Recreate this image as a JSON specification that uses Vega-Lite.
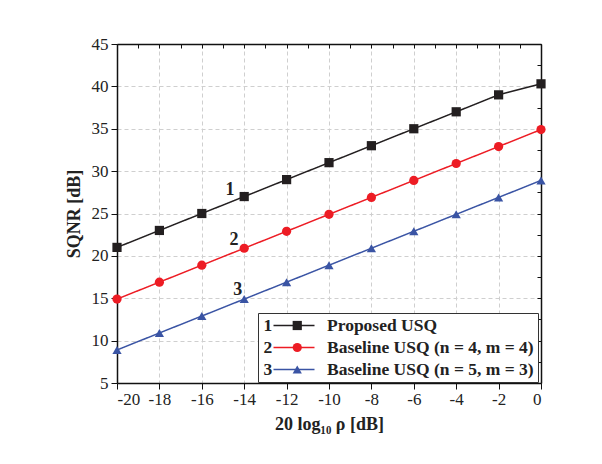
{
  "$schema": "https://vega.github.io/schema/vega-lite/v6.json",
  "width": 424,
  "height": 339,
  "autosize": {"type": "none"},
  "padding": {"left": 117, "top": 44, "right": 61, "bottom": 81},
  "background": "white",
  "config": {
    "font": "Liberation Serif",
    "view": {"stroke": null},
    "axis": {
      "domainColor": "#111111",
      "domainWidth": 1.5,
      "tickColor": "#111111",
      "tickWidth": 1,
      "gridColor": "#cfcfcf",
      "gridDash": [4, 3],
      "gridWidth": 1,
      "labelColor": "#222222",
      "labelFont": "Liberation Serif",
      "labelFontSize": 17,
      "titleFont": "Liberation Serif",
      "titleColor": "#222222",
      "titleFontSize": 18,
      "titleFontWeight": "bold"
    }
  },
  "data": {
    "values": [
      {"x": -20, "y": 21, "s": "Proposed USQ", "marker": "square", "num": "1"},
      {"x": -18, "y": 23, "s": "Proposed USQ", "marker": "square", "num": "1"},
      {"x": -16, "y": 25, "s": "Proposed USQ", "marker": "square", "num": "1"},
      {"x": -14, "y": 27, "s": "Proposed USQ", "marker": "square", "num": "1"},
      {"x": -12, "y": 29, "s": "Proposed USQ", "marker": "square", "num": "1"},
      {"x": -10, "y": 31, "s": "Proposed USQ", "marker": "square", "num": "1"},
      {"x": -8, "y": 33, "s": "Proposed USQ", "marker": "square", "num": "1"},
      {"x": -6, "y": 35, "s": "Proposed USQ", "marker": "square", "num": "1"},
      {"x": -4, "y": 37, "s": "Proposed USQ", "marker": "square", "num": "1"},
      {"x": -2, "y": 39, "s": "Proposed USQ", "marker": "square", "num": "1"},
      {"x": 0, "y": 40.3, "s": "Proposed USQ", "marker": "square", "num": "1"},
      {"x": -20, "y": 14.9, "s": "Baseline USQ (n = 4, m = 4)", "marker": "circle", "num": "2"},
      {"x": -18, "y": 16.9, "s": "Baseline USQ (n = 4, m = 4)", "marker": "circle", "num": "2"},
      {"x": -16, "y": 18.9, "s": "Baseline USQ (n = 4, m = 4)", "marker": "circle", "num": "2"},
      {"x": -14, "y": 20.9, "s": "Baseline USQ (n = 4, m = 4)", "marker": "circle", "num": "2"},
      {"x": -12, "y": 22.9, "s": "Baseline USQ (n = 4, m = 4)", "marker": "circle", "num": "2"},
      {"x": -10, "y": 24.9, "s": "Baseline USQ (n = 4, m = 4)", "marker": "circle", "num": "2"},
      {"x": -8, "y": 26.9, "s": "Baseline USQ (n = 4, m = 4)", "marker": "circle", "num": "2"},
      {"x": -6, "y": 28.9, "s": "Baseline USQ (n = 4, m = 4)", "marker": "circle", "num": "2"},
      {"x": -4, "y": 30.9, "s": "Baseline USQ (n = 4, m = 4)", "marker": "circle", "num": "2"},
      {"x": -2, "y": 32.9, "s": "Baseline USQ (n = 4, m = 4)", "marker": "circle", "num": "2"},
      {"x": 0, "y": 34.9, "s": "Baseline USQ (n = 4, m = 4)", "marker": "circle", "num": "2"},
      {"x": -20, "y": 8.9, "s": "Baseline USQ (n = 5, m = 3)", "marker": "triangle", "num": "3"},
      {"x": -18, "y": 10.9, "s": "Baseline USQ (n = 5, m = 3)", "marker": "triangle", "num": "3"},
      {"x": -16, "y": 12.9, "s": "Baseline USQ (n = 5, m = 3)", "marker": "triangle", "num": "3"},
      {"x": -14, "y": 14.9, "s": "Baseline USQ (n = 5, m = 3)", "marker": "triangle", "num": "3"},
      {"x": -12, "y": 16.9, "s": "Baseline USQ (n = 5, m = 3)", "marker": "triangle", "num": "3"},
      {"x": -10, "y": 18.9, "s": "Baseline USQ (n = 5, m = 3)", "marker": "triangle", "num": "3"},
      {"x": -8, "y": 20.9, "s": "Baseline USQ (n = 5, m = 3)", "marker": "triangle", "num": "3"},
      {"x": -6, "y": 22.9, "s": "Baseline USQ (n = 5, m = 3)", "marker": "triangle", "num": "3"},
      {"x": -4, "y": 24.9, "s": "Baseline USQ (n = 5, m = 3)", "marker": "triangle", "num": "3"},
      {"x": -2, "y": 26.9, "s": "Baseline USQ (n = 5, m = 3)", "marker": "triangle", "num": "3"},
      {"x": 0, "y": 28.9, "s": "Baseline USQ (n = 5, m = 3)", "marker": "triangle", "num": "3"}
    ]
  },
  "layer": [
    {
      "mark": {"type": "line", "strokeWidth": 1.5},
      "encoding": {
        "x": {
          "field": "x", "type": "quantitative",
          "scale": {"domain": [-20, 0], "nice": false, "zero": false},
          "axis": {
            "orient": "bottom",
            "values": [-20, -18, -16, -14, -12, -10, -8, -6, -4, -2, 0],
            "grid": true, "tickSize": 6, "labelPadding": 2,
            "labelExpr": "datum.value < 0 ? '-' + abs(datum.value) : '' + datum.value",
            "title": "20 log₁₀ ρ [dB]", "titlePadding": 8
          }
        },
        "y": {
          "field": "y", "type": "quantitative",
          "scale": {"domain": [5, 45], "nice": false, "zero": false},
          "axis": {
            "orient": "left",
            "values": [5, 10, 15, 20, 25, 30, 35, 40, 45],
            "grid": true, "tickSize": 6, "labelPadding": 3,
            "title": "SQNR [dB]", "titlePadding": 8
          }
        },
        "stroke": {
          "field": "s", "type": "nominal",
          "scale": {"domain": ["Proposed USQ", "Baseline USQ (n = 4, m = 4)", "Baseline USQ (n = 5, m = 3)"], "range": ["#231f20", "#ed1c24", "#3a54a4"]},
          "legend": {
            "orient": "none", "legendX": 141, "legendY": 269, "title": null, "zindex": 0,
            "padding": 4, "strokeColor": "#333333", "fillColor": "white",
            "symbolType": "stroke", "symbolSize": 1681, "symbolStrokeWidth": 1.5,
            "symbolOffset": 10.5, "labelOffset": 11.5, "rowPadding": 4, "clipHeight": 17,
            "labelFont": "Liberation Serif", "labelFontSize": 17.5, "labelFontWeight": "bold", "labelColor": "#222222", "labelLimit": 400
          }
        },
        "strokeDash": {
          "field": "num", "type": "nominal",
          "scale": {"domain": ["1", "2", "3"], "range": [[1, 0], [1, 0], [1, 0]]},
          "legend": {
            "orient": "none", "legendX": 129, "legendY": 273, "title": null, "zindex": 2,
            "padding": 0, "symbolType": "circle", "symbolOpacity": 0, "symbolSize": 1, "labelOffset": 0, "rowPadding": 4, "clipHeight": 17,
            "labelFont": "Liberation Serif", "labelFontSize": 17.5, "labelFontWeight": "bold", "labelColor": "#222222"
          }
        }
      }
    },
    {
      "mark": {"type": "point", "filled": true, "size": 85, "opacity": 1},
      "encoding": {
        "x": {
          "field": "x", "type": "quantitative",
          "axis": {"orient": "top", "values": [-20, -19, -18, -17, -16, -15, -14, -13, -12, -11, -10, -9, -8, -7, -6, -5, -4, -3, -2, -1, 0], "labels": false, "grid": false, "tickSize": -4, "title": null}
        },
        "y": {
          "field": "y", "type": "quantitative",
          "axis": {"orient": "right", "values": [5, 7.5, 10, 12.5, 15, 17.5, 20, 22.5, 25, 27.5, 30, 32.5, 35, 37.5, 40, 42.5, 45], "labels": false, "grid": false, "tickSize": -4, "title": null}
        },
        "shape": {
          "field": "marker", "type": "nominal",
          "scale": {"domain": ["square", "circle", "triangle"], "range": ["square", "circle", "triangle-up"]},
          "legend": {
            "orient": "none", "legendX": 141, "legendY": 269, "title": null, "zindex": 2,
            "padding": 4, "symbolSize": 85, "symbolOpacity": 1,
            "symbolOffset": 26.5, "labelOffset": 0, "rowPadding": 4, "clipHeight": 17,
            "labelExpr": "''",
            "labelFont": "Liberation Serif", "labelFontSize": 17.5, "labelFontWeight": "bold"
          }
        },
        "fill": {
          "field": "marker", "type": "nominal",
          "scale": {"domain": ["square", "circle", "triangle"], "range": ["#231f20", "#ed1c24", "#3a54a4"]},
          "legend": {
            "orient": "none", "legendX": 141, "legendY": 269, "title": null, "zindex": 2,
            "padding": 4, "symbolSize": 85, "symbolOpacity": 1,
            "symbolOffset": 26.5, "labelOffset": 0, "rowPadding": 4, "clipHeight": 17,
            "labelExpr": "''",
            "labelFont": "Liberation Serif", "labelFontSize": 17.5, "labelFontWeight": "bold"
          }
        }
      }
    },
    {
      "data": {
        "values": [
          {"x": -14.67, "y": 27.8, "t": "1"},
          {"x": -14.48, "y": 21.9, "t": "2"},
          {"x": -14.3, "y": 16.0, "t": "3"}
        ]
      },
      "mark": {"type": "text", "font": "Liberation Serif", "fontSize": 18, "fontWeight": "bold", "color": "#222222", "baseline": "middle", "align": "center"},
      "encoding": {
        "x": {"field": "x", "type": "quantitative", "axis": null},
        "y": {"field": "y", "type": "quantitative", "axis": null},
        "text": {"field": "t"}
      }
    }
  ],
  "resolve": {
    "axis": {"x": "independent", "y": "independent"}
  }
}
